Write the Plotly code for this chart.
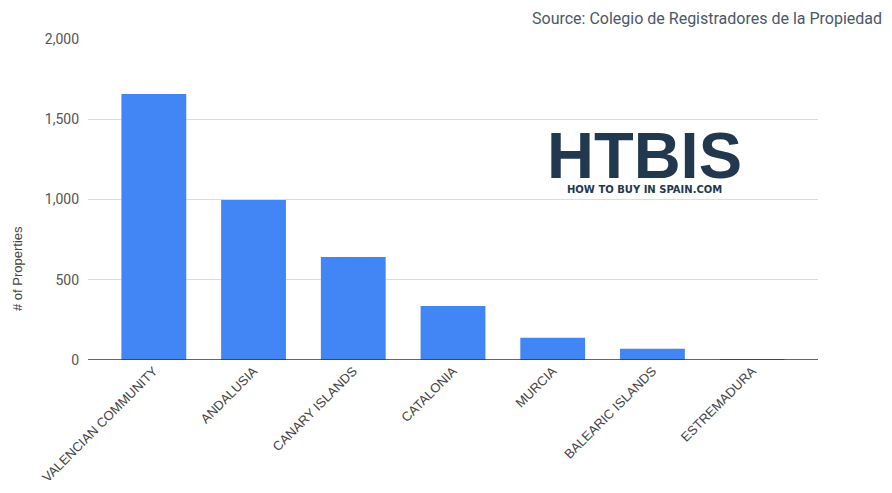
import plotly.graph_objects as go

regions = ["VALENCIAN COMMUNITY", "ANDALUSIA", "CANARY ISLANDS", "CATALONIA",
           "MURCIA", "BALEARIC ISLANDS", "ESTREMADURA"]
properties = [1658, 997, 642, 337, 138, 70, 4]
y_ticks = [0, 500, 1000, 1500, 2000]
y_tick_labels = ["0", "500", "1,000", "1,500", "2,000"]

fig = go.Figure()
fig.add_trace(go.Bar(
    x=regions, y=properties,
    marker=dict(color="#4285F4", line=dict(width=0)),
    width=0.65,
))

fig.update_layout(
    width=884, height=485,
    margin=dict(l=80, r=74, t=31, b=133, autoexpand=False),
    plot_bgcolor="white", paper_bgcolor="white",
    showlegend=False,
    font=dict(family="Roboto", color="#444444"),
    xaxis=dict(
        range=[-0.66, 6.66], tickangle=-45, showgrid=False, automargin=False,
        tickfont=dict(size=13, color="#444444", family="Liberation Sans"), ticks="",
        showline=False, zeroline=False,
    ),
    yaxis=dict(
        range=[0, 2000], tickvals=y_ticks, ticktext=y_tick_labels, automargin=False,
        showgrid=True, gridcolor="#dcdcdc", gridwidth=1,
        zeroline=False, showline=False, ticks="",
        tickfont=dict(size=14, color="#555555"), ticklabelstandoff=8,
    ),
    annotations=[
        dict(text="# of Properties", xref="paper", yref="paper", x=-0.0973, y=0.2866,
             xanchor="center", yanchor="middle", textangle=-90, showarrow=False,
             font=dict(size=13, color="#444444", family="Liberation Sans")),
        dict(text="Source: Colegio de Registradores de la Propiedad", xref="paper", yref="paper",
             x=1.0904, y=1.0, xanchor="right", yanchor="middle", yshift=21, showarrow=False,
             font=dict(size=16, color="#4a5868", family="Roboto")),
        dict(text="<b>HTBIS</b>", xref="paper", yref="paper", x=0.763, y=0.638,
             xanchor="center", yanchor="middle", showarrow=False,
             font=dict(size=65, color="#22384f", family="Liberation Sans")),
        dict(text="<b>HOW TO BUY IN SPAIN.COM</b>", xref="paper", yref="paper", x=0.763,
             y=0.532, xanchor="center", yanchor="middle", showarrow=False,
             font=dict(size=10, color="#22384f", family="DejaVu Sans")),
    ],
)
fig.add_shape(type="line", xref="paper", yref="y", x0=0, x1=1, y0=0, y1=0,
              line=dict(color="#333333", width=1.5))

fig.write_html("out.html")
